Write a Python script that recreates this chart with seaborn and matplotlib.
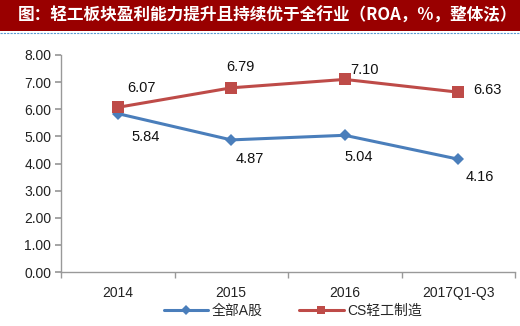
import matplotlib
matplotlib.use("Agg")
import matplotlib.pyplot as plt
import seaborn as sns
import pandas as pd
from matplotlib.patches import Rectangle
from matplotlib.lines import Line2D

categories = ["2014", "2015", "2016", "2017Q1-Q3"]
all_a = [5.84, 4.87, 5.04, 4.16]
cs_light = [6.07, 6.79, 7.10, 6.63]
series_names = ["全部A股", "CS轻工制造"]
title = "图：轻工板块盈利能力提升且持续优于全行业（ROA，%，整体法）"

sns.set_theme(style="white")
plt.rcParams['font.family'] = ['Liberation Sans', 'Noto Sans CJK SC', 'DejaVu Sans']

df = pd.DataFrame({
    "cat": categories * 2,
    "x": list(range(len(categories))) * 2,
    "value": all_a + cs_light,
    "series": [series_names[0]] * 4 + [series_names[1]] * 4,
})

colors = {series_names[0]: "#4A7EBB", series_names[1]: "#BE4B48"}

fig = plt.figure(figsize=(5.2, 3.26), dpi=100)
ax = fig.add_axes([61/520, 1 - 272/326, (515 - 61)/520, (272 - 55)/326])

sns.lineplot(data=df, x="x", y="value", hue="series", style="series",
             markers={series_names[0]: "D", series_names[1]: "s"}, dashes=False,
             palette=colors, ax=ax, linewidth=2.2, markersize=7,
             markeredgewidth=0, legend=False)
for line in ax.get_lines():
    if line.get_marker() == "s":
        line.set_markersize(8)
    else:
        line.set_markersize(6.5)

ax.set_xlim(-0.5, 3.5)
ax.set_ylim(0, 8)
ax.set_yticks([0, 1, 2, 3, 4, 5, 6, 7, 8])
ax.set_yticklabels([f"{v:.2f}" for v in range(9)], fontsize=10, color="#222222")
ax.set_xticks([0, 1, 2, 3])
ax.set_xticklabels(categories, fontsize=10, color="#222222")
ax.set_xticks([-0.5, 0.5, 1.5, 2.5, 3.5], minor=True)
ax.tick_params(axis="x", which="major", length=0, pad=10)
ax.tick_params(axis="x", which="minor", length=4, color="#999999", direction="out", bottom=True)
ax.tick_params(axis="y", length=4, color="#999999", direction="out", left=True, pad=3)
ax.set_xlabel("")
ax.set_ylabel("")
for s in ["top", "right"]:
    ax.spines[s].set_visible(False)
for s in ["left", "bottom"]:
    ax.spines[s].set_color("#999999")
    ax.spines[s].set_linewidth(1.0)

# label offsets in pixels (dx, dy with dy positive = up)
off_a = [(28, -23), (19, -19), (14, -22), (22, -18)]
off_cs = [(24, 19), (9, 21), (20, 9), (29, 2)]
px2pt = 72 / 100
for i, v in enumerate(all_a):
    ax.annotate(f"{v:.2f}", (i, v), xytext=(off_a[i][0]*px2pt, off_a[i][1]*px2pt),
                textcoords="offset points", ha="center", va="center", fontsize=10.5, color="#111111")
for i, v in enumerate(cs_light):
    ax.annotate(f"{v:.2f}", (i, v), xytext=(off_cs[i][0]*px2pt, off_cs[i][1]*px2pt),
                textcoords="offset points", ha="center", va="center", fontsize=10.5, color="#111111")

# title bar
fig.patches.append(Rectangle((0, 1 - 31/326), 1, 31/326, transform=fig.transFigure,
                             facecolor="#990000", edgecolor="none", zorder=0))
fig.add_artist(Line2D([0, 1], [1 - 32.5/326, 1 - 32.5/326], transform=fig.transFigure,
                      color="#5B9BD5", linewidth=0.8, linestyle=(0, (2, 1))))
fig.text(18/520, 1 - 15.5/326, title, color="white", fontsize=12, fontweight="bold",
         ha="left", va="center", family=["Noto Sans CJK SC", "DejaVu Sans"])

handles = [
    Line2D([], [], color=colors[series_names[0]], marker="D", markersize=5, linewidth=2.2, markeredgewidth=0),
    Line2D([], [], color=colors[series_names[1]], marker="s", markersize=6, linewidth=2.2, markeredgewidth=0),
]
fig.legend(handles, series_names, loc="center", bbox_to_anchor=(293/520, 1 - 311/326),
           ncol=2, frameon=False, handlelength=3.2, columnspacing=2.6,
           handletextpad=0.3, prop={"family": ["Liberation Sans", "Noto Sans CJK SC"], "size": 10})

fig.savefig("out.png", dpi=100)
